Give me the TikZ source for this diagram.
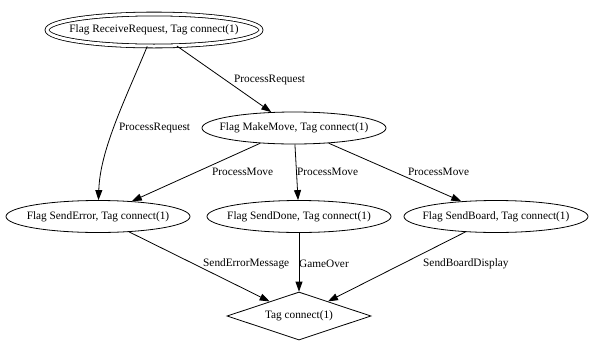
\documentclass[tikz,border=0pt]{standalone}
\usepackage{fontspec}
\setmainfont{Liberation Serif}
\usetikzlibrary{shapes.geometric,arrows.meta}
\newcommand{\zw}[1]{\makebox[0pt][c]{#1}}
\begin{document}
\begin{tikzpicture}[x=1pt,y=-1pt,
  every node/.style={font=\fontsize{11.3}{13}\selectfont},
  state/.style={ellipse, draw, line width=0.8pt, minimum width=184pt, minimum height=32pt, inner sep=0pt},
  startstate/.style={ellipse, draw, line width=0.8pt, double, double distance=3pt, minimum width=214pt, minimum height=32pt, inner sep=0pt},
  endstate/.style={diamond, draw, line width=0.8pt, minimum width=144pt, minimum height=48pt, inner sep=0pt},
  edge/.style={line width=0.8pt, -{Triangle[length=10pt,width=7pt]}},
  elabel/.style={anchor=west, inner sep=0pt}
]
\useasboundingbox (0,0) rectangle (590,341);
\node[startstate] (rcv) at (154,30) {\zw{Flag ReceiveRequest, Tag connect(1)}};
\node[state] (mm) at (294,128) {\zw{Flag MakeMove, Tag connect(1)}};
\node[state] (err) at (98,216.5) {\zw{Flag SendError, Tag connect(1)}};
\node[state] (done) at (299,216.5) {\zw{Flag SendDone, Tag connect(1)}};
\node[state] (board) at (496,216.5) {\zw{Flag SendBoard, Tag connect(1)}};
\node[endstate] (fin) at (299,316) {\zw{Tag connect(1)}};

\draw[edge] (rcv) .. controls (125,100) and (100,150) .. (err);
\draw[edge] (rcv) -- (mm);
\draw[edge] (mm) -- (err);
\draw[edge] (mm) -- (done);
\draw[edge] (mm) -- (board);
\draw[edge] (err) -- (fin);
\draw[edge] (done) -- (fin);
\draw[edge] (board) -- (fin);

\node[elabel] (l1) at (234,80) {ProcessRequest};
\node[elabel] (l2) at (119,128) {ProcessRequest};
\node[elabel] (l3) at (212,172) {ProcessMove};
\node[elabel] (l4) at (297,172) {ProcessMove};
\node[elabel] (l5) at (408,172) {ProcessMove};
\node[elabel] (l6) at (203,264) {SendErrorMessage};
\node[elabel] (l7) at (299,264) {GameOver};
\node[elabel] (l8) at (423,264) {SendBoardDisplay};
\end{tikzpicture}
\end{document}
